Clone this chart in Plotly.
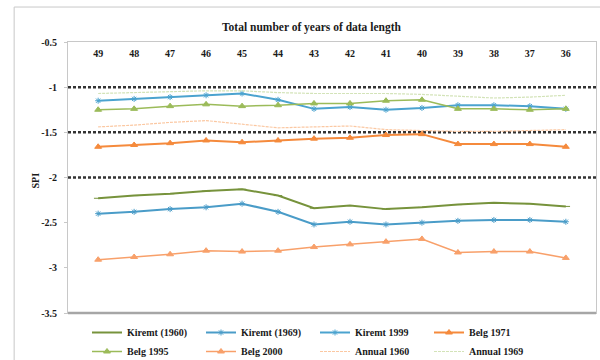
import plotly.graph_objects as go

years = ["49", "48", "47", "46", "45", "44", "43", "42", "41", "40", "39", "38", "37", "36"]

kiremt_1960 = [-2.23, -2.20, -2.18, -2.15, -2.13, -2.20, -2.34, -2.31, -2.35, -2.33, -2.30, -2.28, -2.29, -2.32]
kiremt_1969 = [-2.40, -2.38, -2.35, -2.33, -2.29, -2.38, -2.52, -2.49, -2.52, -2.50, -2.48, -2.47, -2.47, -2.49]
kiremt_1999 = [-1.15, -1.13, -1.11, -1.09, -1.07, -1.14, -1.24, -1.22, -1.25, -1.23, -1.20, -1.20, -1.21, -1.24]
belg_1971 = [-1.66, -1.64, -1.62, -1.59, -1.61, -1.59, -1.57, -1.56, -1.53, -1.52, -1.63, -1.63, -1.63, -1.66]
belg_1995 = [-1.25, -1.24, -1.21, -1.19, -1.21, -1.20, -1.18, -1.18, -1.15, -1.14, -1.24, -1.24, -1.25, -1.24]
belg_2000 = [-2.91, -2.88, -2.85, -2.81, -2.82, -2.81, -2.77, -2.74, -2.71, -2.68, -2.83, -2.82, -2.82, -2.89]
annual_1960 = [-1.44, -1.42, -1.39, -1.37, -1.41, -1.45, -1.44, -1.43, -1.47, -1.48, -1.49, -1.49, -1.48, -1.47]
annual_1969 = [-1.07, -1.06, -1.05, -1.04, -1.04, -1.06, -1.07, -1.07, -1.07, -1.08, -1.10, -1.12, -1.11, -1.09]

threshold_levels = [-1.0, -1.5, -2.0]
y_tickvals = [-0.5, -1.0, -1.5, -2.0, -2.5, -3.0, -3.5]
y_ticktext = ["-0.5", "-1", "-1.5", "-2", "-2.5", "-3", "-3.5"]

SERIF = "Liberation Serif"
TXT = "#1A1A1A"

series = [
    ("Kiremt (1960)", kiremt_1960, "#77933C", 2, "line-ew-open", 6),
    ("Kiremt (1969)", kiremt_1969, "#4A9CC8", 2, "asterisk-open", 5),
    ("Kiremt 1999", kiremt_1999, "#4BA3CF", 2, "asterisk-open", 5),
    ("Belg 1971", belg_1971, "#F58A3C", 2, "triangle-up", 6),
    ("Belg 1995", belg_1995, "#9BBB59", 1.5, "triangle-up", 6),
    ("Belg 2000", belg_2000, "#F8A06A", 1.5, "triangle-up", 6),
    ("Annual 1960", annual_1960, "#FBC8A2", 1.2, None, 0),
    ("Annual 1969", annual_1969, "#D3E3B8", 1.2, None, 0),
]

fig = go.Figure()
for name, vals, color, lw, sym, ms in series:
    if sym:
        fig.add_trace(go.Scatter(
            x=years, y=vals, name=name, mode="lines+markers",
            line=dict(color=color, width=lw),
            marker=dict(symbol=sym, size=ms, color=color, line=dict(color=color, width=1)),
        ))
    else:
        fig.add_trace(go.Scatter(
            x=years, y=vals, name=name, mode="lines",
            line=dict(color=color, width=lw, dash="3px,1px"),
        ))

shapes = []
for lvl in threshold_levels:
    shapes.append(dict(type="line", xref="paper", yref="y", x0=0, x1=1, y0=lvl, y1=lvl,
                       line=dict(color="#333333", width=2.5, dash="3px,2px"), layer="below"))
# outer chart border
shapes.append(dict(type="rect", xref="paper", yref="paper", x0=-0.102, x1=1.2, y0=-0.5, y1=1.129,
                   line=dict(color="#C8C8C8", width=1), layer="below"))
# thicker bottom axis line
shapes.append(dict(type="line", xref="paper", yref="paper", x0=0, x1=1, y0=0, y1=0,
                   line=dict(color="#A6A6A6", width=2.5)))

fig.update_layout(
    width=600, height=360,
    margin=dict(l=68, r=4, t=42, b=47, autoexpand=False),
    paper_bgcolor="white", plot_bgcolor="white",
    font=dict(family=SERIF, size=10, color=TXT, weight="bold"),
    shapes=shapes,
    showlegend=True,
    legend=dict(
        orientation="h", xref="container", yref="container",
        x=87 / 600, xanchor="left", y=1 - 318 / 360, yanchor="top",
        entrywidth=69, entrywidthmode="pixels", itemwidth=30,
        font=dict(family=SERIF, size=10, color=TXT, weight="bold"),
        tracegroupgap=0, bgcolor="rgba(0,0,0,0)",
    ),
    annotations=[
        dict(text="Total number of years of data length", xref="paper", yref="paper",
             x=(312 - 68) / 528, y=1.055, xanchor="center", yanchor="middle", showarrow=False,
             font=dict(family=SERIF, size=11.5, color=TXT, weight="bold")),
        dict(text="SPI", xref="paper", yref="paper", x=-0.062, y=0.49, textangle=-90,
             xanchor="center", yanchor="middle", showarrow=False,
             font=dict(family=SERIF, size=10, color=TXT, weight="bold")),
    ],
    xaxis=dict(
        type="category", side="top", showticklabels=False, ticks="",
        showgrid=False, zeroline=False, showline=True, linecolor="#C8C8C8", linewidth=1, mirror=True,
    ),
    xaxis2=dict(
        overlaying="x", matches="x", type="category", side="bottom", anchor="free",
        position=1 - 4 / 271, showline=False, ticks="", showgrid=False, zeroline=False,
        tickfont=dict(family=SERIF, size=10, color=TXT, weight="bold"),
    ),
    yaxis=dict(
        range=[-3.5, -0.5], tickvals=y_tickvals, ticktext=y_ticktext,
        showgrid=False, zeroline=False, showline=True, linecolor="#C8C8C8", linewidth=1, mirror=True,
        ticks="outside", ticklen=3, tickcolor="#C8C8C8", ticklabelstandoff=5,
        tickfont=dict(family=SERIF, size=10, color=TXT, weight="bold"),
    ),
)

# invisible carrier trace so the top category labels exist on xaxis2
fig.add_trace(go.Scatter(x=years, y=kiremt_1960, xaxis="x2", yaxis="y", mode="lines",
                         line=dict(width=0), hoverinfo="skip", showlegend=False, opacity=0))

fig.write_html("out.html", config={"displayModeBar": False},
               post_script="document.body.style.margin='0';")
